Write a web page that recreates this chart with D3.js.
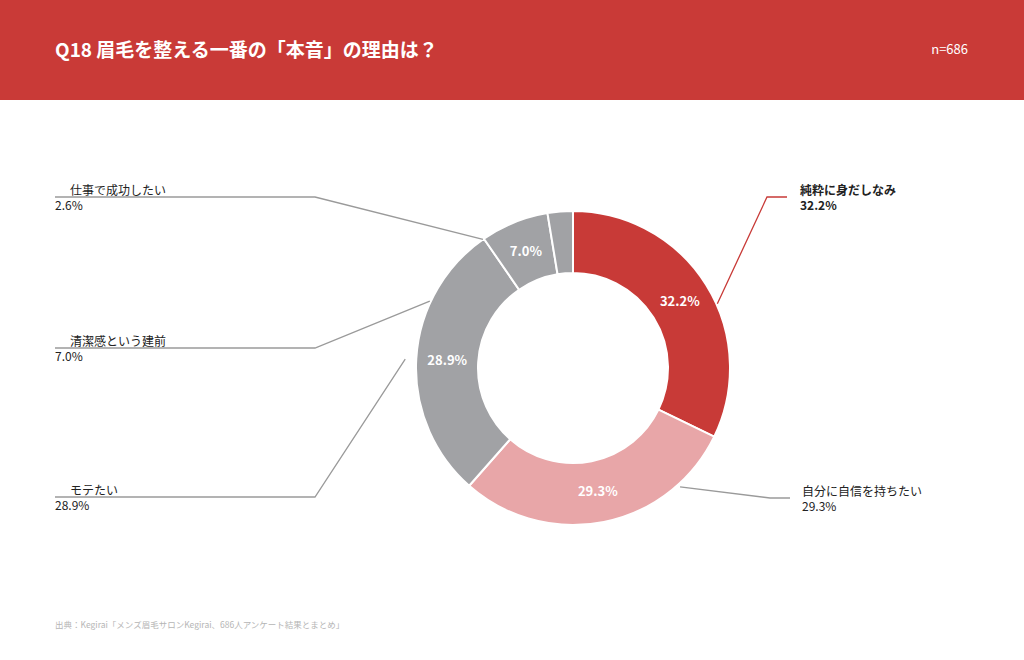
<html>
<head>
<meta charset="utf-8">
<style>
  body { margin: 0; background: #fff; }
  svg text { font-family: "Noto Sans CJK JP", "Noto Sans", sans-serif; }
</style>
</head>
<body>
<svg id="chart" width="1024" height="660"></svg>
<script src="https://d3js.org/d3.v7.min.js"></script>
<script>
var categories = ["純粋に身だしなみ", "自分に自信を持ちたい", "モテたい", "清潔感という建前", "仕事で成功したい"];
var values = [32.2, 29.3, 28.9, 7.0, 2.6];
var colors = ["#c83a37", "#e8a6a8", "#a1a2a5", "#a1a2a5", "#a1a2a5"];

// label layout: angle (deg) where leader leaves the ring, elbow, text anchor point
var leaders = [
  {ang: 66, r: 158, ex: 767, ey: 197, tx: 788, side: "r", bold: true, lc: "#c83a37"},
  {ang: 138, r: 160, ex: 770, ey: 498, tx: 790, side: "r", lc: "#9a9a9a"},
  {ang: 273, r: 168, ex: 315, ey: 497, tx: 55, side: "l", lc: "#9a9a9a"},
  {ang: 295, r: 158, ex: 315, ey: 348, tx: 55, side: "l", lc: "#9a9a9a"},
  {ang: 325, r: 157, ex: 315, ey: 197, tx: 55, side: "l", lc: "#9a9a9a"}
];

var svg = d3.select("#chart");
svg.append("rect").attr("width", 1024).attr("height", 100).attr("fill", "#c93a37");
svg.append("text").attr("x", 55).attr("y", 57).attr("fill", "#fff")
  .attr("font-size", 19).attr("font-weight", "bold").text("Q18  眉毛を整える一番の「本音」の理由は？");
svg.append("text").attr("x", 968).attr("y", 54).attr("fill", "#fff")
  .attr("font-size", 13).attr("text-anchor", "end").text("n=686");

var cx = 573, cy = 368;
var g = svg.append("g").attr("transform", "translate(" + cx + "," + cy + ")");
var pie = d3.pie().sort(null).value(function(d) { return d; });
var arc = d3.arc().innerRadius(95).outerRadius(157);
var arcs = pie(values);

g.selectAll("path").data(arcs).enter().append("path")
  .attr("d", arc)
  .attr("fill", function(d, i) { return colors[i]; })
  .attr("stroke", "#fff").attr("stroke-width", 2);

var labelArc = d3.arc().innerRadius(126).outerRadius(126);
g.selectAll("text.pct").data(arcs).enter().filter(function(d) { return d.data >= 5; })
  .append("text")
  .attr("transform", function(d) { return "translate(" + labelArc.centroid(d) + ")"; })
  .attr("text-anchor", "middle").attr("dy", "0.35em")
  .attr("fill", "#fff").attr("font-size", 13).attr("font-weight", "bold")
  .text(function(d) { return d.data.toFixed(1) + "%"; });

leaders.forEach(function(L, i) {
  var a = L.ang * Math.PI / 180;
  var sx = cx + L.r * Math.sin(a), sy = cy - L.r * Math.cos(a);
  var endX = L.side === "r" ? L.ex + 20 : L.tx;
  svg.append("polyline")
    .attr("points", [[sx, sy], [L.ex, L.ey], [endX, L.ey]].map(function(p) { return p.join(","); }).join(" "))
    .attr("fill", "none").attr("stroke", L.lc).attr("stroke-width", 1.3);
  var nameX = L.side === "r" ? L.tx + 12 : L.tx + 15;
  var valX = L.side === "r" ? L.tx + 12 : L.tx;
  svg.append("text").attr("x", nameX).attr("y", L.ey - 2).attr("font-size", 12)
    .attr("fill", "#222").attr("font-weight", L.bold ? "bold" : "normal").text(categories[i]);
  svg.append("text").attr("x", valX).attr("y", L.ey + 13).attr("font-size", 12)
    .attr("fill", "#222").attr("font-weight", L.bold ? "bold" : "normal").text(values[i].toFixed(1) + "%");
});

svg.append("text").attr("x", 55).attr("y", 628).attr("font-size", 8.5).attr("fill", "#b5b5b5")
  .text("出典：Kegirai「メンズ眉毛サロンKegirai、686人アンケート結果とまとめ」");
</script>
</body>
</html>
